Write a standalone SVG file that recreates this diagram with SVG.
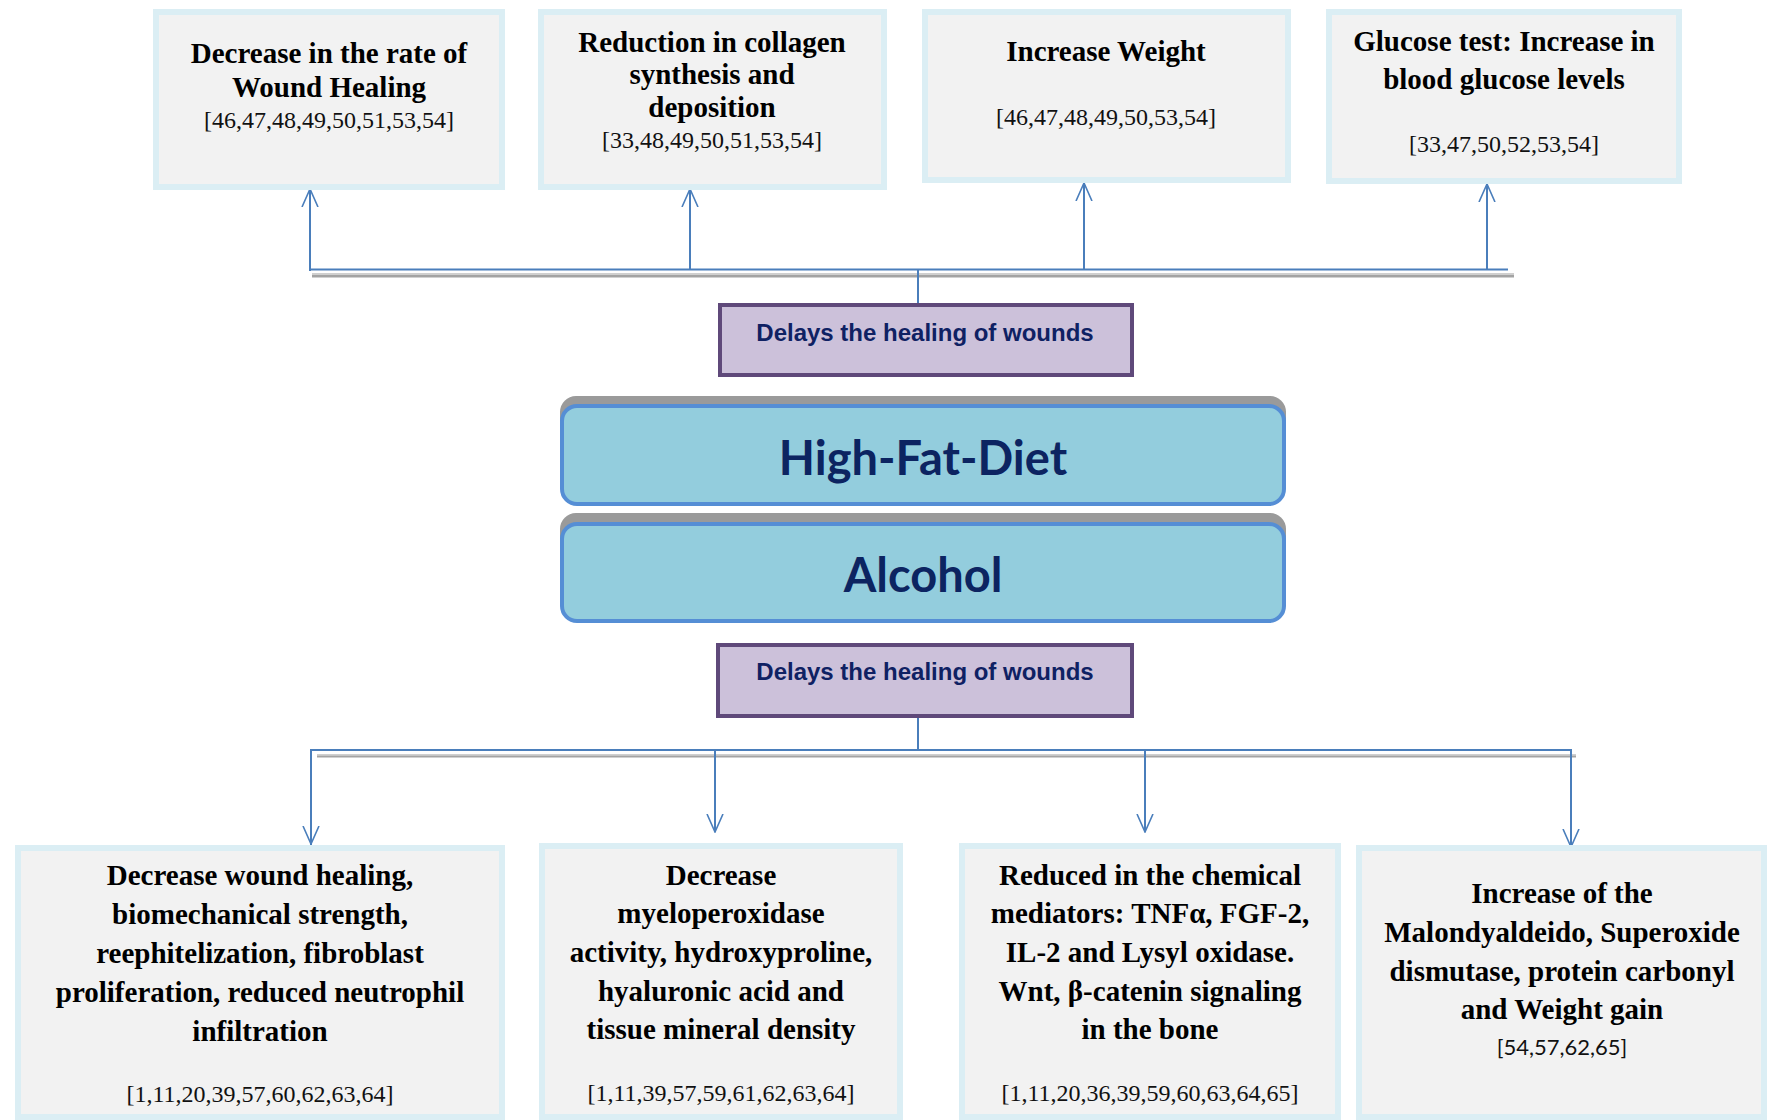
<svg xmlns="http://www.w3.org/2000/svg" width="1767" height="1120" viewBox="0 0 1767 1120">
  <style>
    .card { fill: #f2f2f2; stroke: #dbeef4; stroke-width: 6; }
    .title { font-family: "Liberation Serif", "Times New Roman", serif; font-weight: bold; font-size: 29px; fill: #000; text-anchor: middle; }
    .ref { font-family: "Liberation Serif", "Times New Roman", serif; font-size: 24px; fill: #111; text-anchor: middle; }
    .refsans { font-family: Lato, "Liberation Sans", sans-serif; font-size: 22px; fill: #111; text-anchor: middle; }
    .label { fill: #ccc1da; stroke: #5f497a; stroke-width: 4; }
    .labeltext { font-family: "Liberation Sans", Arial, sans-serif; font-weight: bold; font-size: 24px; fill: #0f2163; text-anchor: middle; }
    .shadow { fill: #9a9a9a; }
    .main { fill: #93cddd; stroke: #558ed5; stroke-width: 4; }
    .maintext { font-family: Lato, "Open Sans", sans-serif; font-weight: bold; font-size: 47px; fill: #0c2461; text-anchor: middle; }
    .conn { stroke: #4a7ebb; stroke-width: 2; fill: none; }
    .bar1 { fill: #cfcfcf; }
    .bar2 { fill: #a3a3a3; }
  </style>
  <defs>
    <marker id="arr" viewBox="0 0 19 18" refX="18" refY="9" markerWidth="19" markerHeight="18" markerUnits="userSpaceOnUse" orient="auto">
      <path d="M0,1 L18,9 L0,17" fill="none" stroke="#4a7ebb" stroke-width="1.6"/>
    </marker>
  </defs>
  <rect width="1767" height="1120" fill="#ffffff"/>

  <!-- connectors -->
  <g id="connectors">
    <!-- upper fan-out -->
    <rect class="bar1" x="312" y="273" width="1202" height="2"/>
    <rect class="bar2" x="312" y="275" width="1202" height="2.5"/>
    <line class="conn" x1="309" y1="269.5" x2="1508" y2="269.5" stroke-width="2.5"/>
    <line class="conn" x1="918" y1="303" x2="918" y2="269"/>
    <line class="conn" x1="310" y1="271" x2="310" y2="189" marker-end="url(#arr)"/>
    <line class="conn" x1="690" y1="269" x2="690" y2="189" marker-end="url(#arr)"/>
    <line class="conn" x1="1084" y1="269" x2="1084" y2="183" marker-end="url(#arr)"/>
    <line class="conn" x1="1487" y1="269" x2="1487" y2="184" marker-end="url(#arr)"/>
    <!-- lower fan-out -->
    <rect class="bar1" x="317" y="754" width="1259" height="1.5"/>
    <rect class="bar2" x="317" y="755.5" width="1259" height="2"/>
    <line class="conn" x1="918" y1="718" x2="918" y2="750"/>
    <polyline class="conn" points="311,845 311,750 1571,750 1571,847" stroke-width="2"/>
    <line class="conn" x1="311" y1="760" x2="311" y2="844" marker-end="url(#arr)"/>
    <line class="conn" x1="715" y1="750" x2="715" y2="832" marker-end="url(#arr)"/>
    <line class="conn" x1="1145" y1="750" x2="1145" y2="832" marker-end="url(#arr)"/>
    <line class="conn" x1="1571" y1="760" x2="1571" y2="847" marker-end="url(#arr)"/>
  </g>

  <!-- upper outcome cards -->
  <g id="wound-rate">
    <rect class="card" x="156" y="12" width="346" height="175"/>
    <text class="title" x="329" y="63">Decrease in the rate of</text>
    <text class="title" x="329" y="97">Wound Healing</text>
    <text class="ref" x="329" y="128">[46,47,48,49,50,51,53,54]</text>
  </g>
  <g id="collagen">
    <rect class="card" x="541" y="12" width="343" height="175"/>
    <text class="title" x="712" y="52">Reduction in collagen</text>
    <text class="title" x="712" y="84">synthesis and</text>
    <text class="title" x="712" y="117">deposition</text>
    <text class="ref" x="712" y="148">[33,48,49,50,51,53,54]</text>
  </g>
  <g id="weight">
    <rect class="card" x="925" y="12" width="363" height="168"/>
    <text class="title" x="1106" y="61">Increase Weight</text>
    <text class="ref" x="1106" y="125">[46,47,48,49,50,53,54]</text>
  </g>
  <g id="glucose">
    <rect class="card" x="1329" y="12" width="350" height="169"/>
    <text class="title" x="1504" y="51">Glucose test: Increase in</text>
    <text class="title" x="1504" y="89">blood glucose levels</text>
    <text class="ref" x="1504" y="152">[33,47,50,52,53,54]</text>
  </g>

  <!-- effect labels -->
  <g id="delay-top">
    <rect class="label" x="720" y="305" width="412" height="70"/>
    <text class="labeltext" x="925" y="341">Delays the healing of wounds</text>
  </g>

  <!-- central causes -->
  <g id="high-fat-diet">
    <rect class="shadow" x="560" y="396" width="726" height="100" rx="16"/>
    <rect class="main" x="562" y="406" width="722" height="98" rx="15"/>
    <text class="maintext" x="923" y="475">High-Fat-Diet</text>
  </g>
  <g id="alcohol">
    <rect class="shadow" x="560" y="513" width="726" height="100" rx="16"/>
    <rect class="main" x="562" y="524" width="722" height="97" rx="15"/>
    <text class="maintext" x="923" y="592">Alcohol</text>
  </g>

  <g id="delay-bottom">
    <rect class="label" x="718" y="645" width="414" height="71"/>
    <text class="labeltext" x="925" y="680">Delays the healing of wounds</text>
  </g>

  <!-- lower outcome cards -->
  <g id="healing-strength">
    <rect class="card" x="18" y="848" width="484" height="269"/>
    <text class="title" x="260" y="885">Decrease wound healing,</text>
    <text class="title" x="260" y="924">biomechanical strength,</text>
    <text class="title" x="260" y="963">reephitelization, fibroblast</text>
    <text class="title" x="260" y="1002">proliferation, reduced neutrophil</text>
    <text class="title" x="260" y="1041">infiltration</text>
    <text class="ref" x="260" y="1102">[1,11,20,39,57,60,62,63,64]</text>
  </g>
  <g id="myeloperoxidase">
    <rect class="card" x="542" y="846" width="358" height="271"/>
    <text class="title" x="721" y="885">Decrease</text>
    <text class="title" x="721" y="923">myeloperoxidase</text>
    <text class="title" x="721" y="962">activity, hydroxyproline,</text>
    <text class="title" x="721" y="1001">hyaluronic acid and</text>
    <text class="title" x="721" y="1039">tissue mineral density</text>
    <text class="ref" x="721" y="1101">[1,11,39,57,59,61,62,63,64]</text>
  </g>
  <g id="mediators">
    <rect class="card" x="962" y="846" width="376" height="271"/>
    <text class="title" x="1150" y="885">Reduced in the chemical</text>
    <text class="title" x="1150" y="923">mediators: TNFα, FGF-2,</text>
    <text class="title" x="1150" y="962">IL-2 and Lysyl oxidase.</text>
    <text class="title" x="1150" y="1001">Wnt, β-catenin signaling</text>
    <text class="title" x="1150" y="1039">in the bone</text>
    <text class="ref" x="1150" y="1101">[1,11,20,36,39,59,60,63,64,65]</text>
  </g>
  <g id="oxidative">
    <rect class="card" x="1359" y="848" width="405" height="269"/>
    <text class="title" x="1562" y="903">Increase of the</text>
    <text class="title" x="1562" y="942">Malondyaldeido, Superoxide</text>
    <text class="title" x="1562" y="981">dismutase, protein carbonyl</text>
    <text class="title" x="1562" y="1019">and Weight gain</text>
    <text class="refsans" x="1562" y="1055">[54,57,62,65]</text>
  </g>
</svg>
